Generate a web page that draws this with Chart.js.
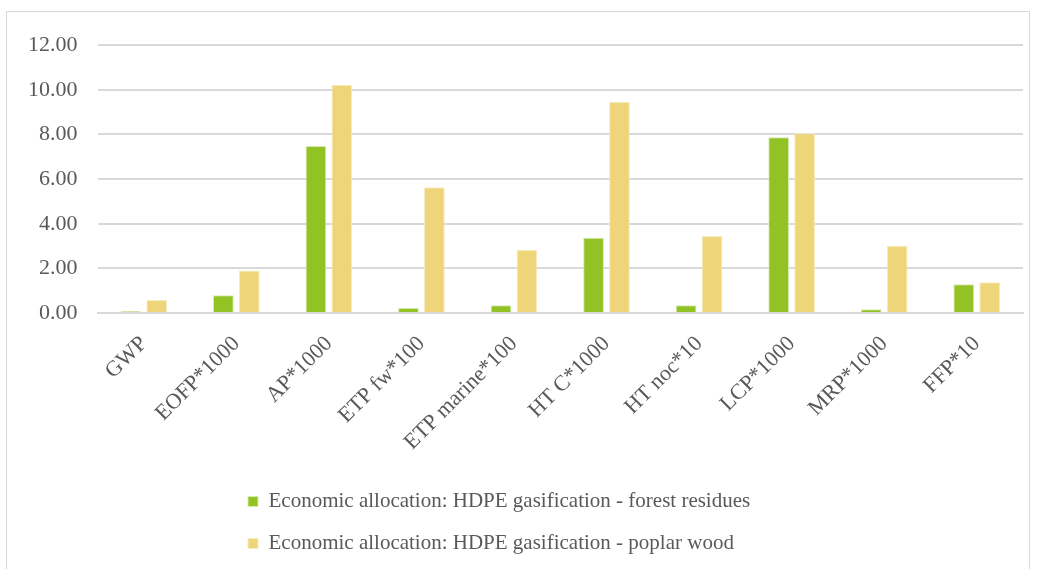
<!DOCTYPE html>
<html>
<head>
<meta charset="utf-8">
<script src="https://cdn.jsdelivr.net/npm/chart.js@4.4.1/dist/chart.umd.min.js"></script>
<style>
  html, body { margin: 0; padding: 0; background: #fff; }
  #wrap {
    position: absolute; left: 6px; top: 11px;
    width: 1024px; height: 570px;
    border: 1px solid #d9d9d9; box-sizing: border-box;
  }
</style>
</head>
<body>
<div id="wrap"><canvas id="chart"></canvas></div>
<script>
// impact categories
const categories = ['GWP', 'EOFP*1000', 'AP*1000', 'ETP fw*100', 'ETP marine*100',
                    'HT C*1000', 'HT noc*10', 'LCP*1000', 'MRP*1000', 'FFP*10'];

// series values
const forestResidues = [0.08, 0.80, 7.48, 0.22, 0.35, 3.37, 0.35, 7.88, 0.17, 1.29];
const poplarWood     = [0.58, 1.90, 10.22, 5.63, 2.83, 9.47, 3.45, 8.05, 3.01, 1.38];

const seriesNames = [
  'Economic allocation: HDPE gasification - forest residues',
  'Economic allocation: HDPE gasification - poplar wood'
];

const fontFamily = '"Liberation Serif", "Times New Roman", serif';
const textColor = '#595959';

// legend in the picture is a left-aligned block, a bit left of centre
const legendBlock = {
  id: 'legendBlock',
  afterLayout: function(chart) {
    chart.legend.left = 220;
    chart.legend.right = 790;
  }
};

new Chart(document.getElementById('chart'), {
  type: 'bar',
  data: {
    labels: categories,
    datasets: [{
      label: seriesNames[0],
      data: forestResidues,
      backgroundColor: '#92c223',
      borderColor: '#d6eab0',
      borderWidth: 1,
      categoryPercentage: 0.56,
      barPercentage: 0.8
    }, {
      label: seriesNames[1],
      data: poplarWood,
      backgroundColor: '#efd57a',
      borderColor: '#f7ebc0',
      borderWidth: 1,
      categoryPercentage: 0.56,
      barPercentage: 0.8
    }]
  },
  options: {
    responsive: true,
    maintainAspectRatio: false,
    animation: false,
    layout: {
      padding: { top: 15, right: 6, left: 1, bottom: 16 }
    },
    plugins: {
      tooltip: { enabled: false },
      legend: {
        position: 'bottom',
        align: 'start',
        maxWidth: 700,
        labels: {
          boxWidth: 10,
          boxHeight: 10,
          padding: 21,
          color: textColor,
          font: { family: fontFamily, size: 21 }
        }
      }
    },
    scales: {
      x: {
        grid: { display: false },
        border: { color: '#d9d9d9', width: 2 },
        ticks: {
          minRotation: 45,
          maxRotation: 45,
          color: textColor,
          padding: 10,
          font: { family: fontFamily, size: 22 }
        },
        afterFit: function(scale) { scale.height = 157; }
      },
      y: {
        min: 0,
        max: 12,
        border: { display: false },
        grid: { color: '#d9d9d9', lineWidth: 2, drawTicks: false },
        ticks: {
          stepSize: 2,
          padding: 20,
          color: textColor,
          font: { family: fontFamily, size: 22 },
          callback: function(v) { return Number(v).toFixed(2); }
        }
      }
    }
  },
  plugins: [legendBlock]
});
</script>
</body>
</html>
